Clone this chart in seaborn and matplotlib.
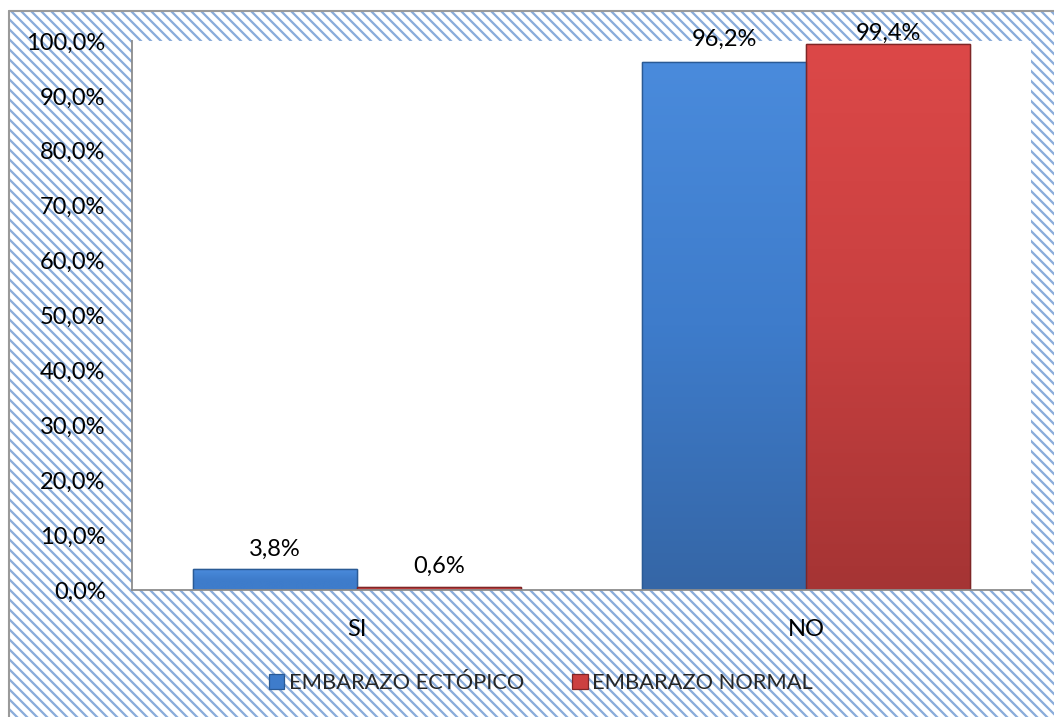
import matplotlib
matplotlib.use("Agg")
import matplotlib.pyplot as plt
import seaborn as sns
import pandas as pd
import numpy as np
from matplotlib.patches import Rectangle
from matplotlib.lines import Line2D
from matplotlib.colors import LinearSegmentedColormap
from matplotlib.ticker import FuncFormatter, MultipleLocator

categories = ["SI", "NO"]
series = ["EMBARAZO ECTÓPICO", "EMBARAZO NORMAL"]
ectopico = [0.038, 0.962]
normal = [0.006, 0.994]
labels_ectopico = ["3,8%", "96,2%"]
labels_normal = ["0,6%", "99,4%"]

df = pd.DataFrame({
    "cat": categories * 2,
    "serie": [series[0]] * 2 + [series[1]] * 2,
    "val": ectopico + normal,
})

DPI = 90
S = 100 / DPI  # scale so sizes behave as at 100 dpi
W, H = 1054, 717

sns.set_theme(style="white")
plt.rcParams["font.family"] = ["Lato", "DejaVu Sans"]
plt.rcParams["hatch.linewidth"] = 1.8
plt.rcParams["hatch.color"] = "#8AACDA"

fig = plt.figure(figsize=(W / DPI, H / DPI), dpi=DPI)
fig.patch.set_facecolor("white")
bg = Rectangle((9 / W, -0.05), 1.1, (H - 11) / H + 0.05, transform=fig.transFigure,
               facecolor="white", edgecolor="#8AACDA", hatch="\\\\\\", linewidth=0, zorder=-10)
fig.patches.append(bg)
fig.lines.append(Line2D([9 / W, 9 / W], [0, (H - 11) / H], transform=fig.transFigure,
                        color="#9A9A9A", linewidth=1.5 * S, zorder=-9))
fig.lines.append(Line2D([9 / W, 1], [(H - 11) / H, (H - 11) / H], transform=fig.transFigure,
                        color="#9A9A9A", linewidth=1.5 * S, zorder=-9))

ax = fig.add_axes([132 / W, (H - 590) / H, (1031 - 132) / W, (590 - 41) / H])
ax.set_facecolor("white")

palette = {series[0]: "#3E7CCB", series[1]: "#CC4040"}
edges = {series[0]: "#2A5A95", series[1]: "#7E2626"}
grads = {series[0]: ["#4A8BDC", "#3E7CCB", "#3566A6"],
         series[1]: ["#DC4848", "#C84040", "#A53434"]}
sns.barplot(data=df, x="cat", y="val", hue="serie", order=categories, hue_order=series,
            palette=palette, width=0.73, gap=0, ax=ax, saturation=1, legend=False,
            linewidth=0.9 * S)

ax.set_xlim(-0.5, 1.5)
ax.set_ylim(0, 1.0)

# Excel-like vertical gradient on each bar, clipped to the bar seaborn drew
for i, bar in enumerate(ax.patches[:4]):
    s = series[0] if i < 2 else series[1]
    bar.set_edgecolor(edges[s])
    x0, y0 = bar.get_x(), bar.get_y()
    w, h = bar.get_width(), bar.get_height()
    cols = grads[s] if h > 0.2 else [grads[s][0], grads[s][1], grads[s][1]]
    cmap = LinearSegmentedColormap.from_list("g", cols[::-1])
    img = ax.imshow(np.linspace(0, 1, 256).reshape(-1, 1), cmap=cmap, origin="lower",
                    extent=[x0, x0 + w, y0, y0 + h], aspect="auto", zorder=bar.get_zorder() + 0.1,
                    interpolation="bicubic")
    img.set_clip_path(bar)
    edge = Rectangle((x0, y0), w, h, facecolor="none", edgecolor=edges[s],
                     linewidth=1.0 * S, zorder=bar.get_zorder() + 0.2)
    ax.add_patch(edge)

ax.set_xlim(-0.5, 1.5)
ax.set_ylim(0, 1.0)

anns = []
for cont, labs in zip(ax.containers, [labels_ectopico, labels_normal]):
    anns.append(ax.bar_label(cont, labels=labs, padding=7 * S, fontsize=17 * S, color="black"))
# Excel keeps the top labels inside the chart area
anns[0][1].xyann = (0, 9 * S)
anns[1][1].xyann = (0, 0)

ax.yaxis.set_major_locator(MultipleLocator(0.1))
ax.yaxis.set_major_formatter(FuncFormatter(lambda v, p: f"{v*100:.1f}%".replace(".", ",")))
ax.set_xlabel("")
ax.set_ylabel("")
ax.tick_params(axis="both", labelsize=17 * S, colors="black", length=0)
ax.tick_params(axis="y", pad=19 * S)
ax.tick_params(axis="x", pad=21 * S)
for s in ["top", "right"]:
    ax.spines[s].set_visible(False)
for s in ["left", "bottom"]:
    ax.spines[s].set_color("#8C8C8C")
    ax.spines[s].set_linewidth(1.3 * S)
    ax.spines[s].set_zorder(5)

handles = [Rectangle((0, 0), 1, 1, facecolor=palette[s], edgecolor=edges[s], linewidth=0.9 * S)
           for s in series]
fig.legend(handles, series, loc="center", bbox_to_anchor=(541 / W, (H - 683) / H),
           ncol=2, frameon=False, fontsize=15.8 * S, handlelength=0.7, handleheight=0.7,
           handletextpad=0.2, columnspacing=2.2)

fig.savefig("out.png", dpi=DPI)
